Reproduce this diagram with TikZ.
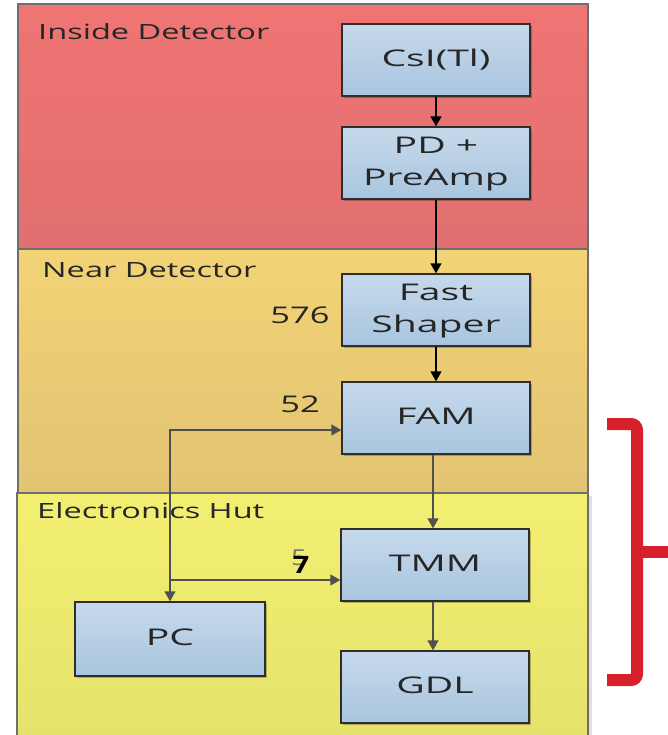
\documentclass[tikz,border=0pt]{standalone}
\usepackage{graphicx}
\usepackage{fontspec}
\setmainfont{Open Sans}
\usetikzlibrary{arrows.meta,calc,shadows}
\definecolor{zoneline}{HTML}{6E6E6E}
\definecolor{redtop}{HTML}{F07474}
\definecolor{redbot}{HTML}{E27070}
\definecolor{oratop}{HTML}{F2D375}
\definecolor{orabot}{HTML}{E2C473}
\definecolor{yeltop}{HTML}{F3EF72}
\definecolor{yelbot}{HTML}{E5E36C}
\definecolor{boxtop}{HTML}{C6D9EB}
\definecolor{boxbot}{HTML}{A9C5DF}
\definecolor{boxline}{HTML}{2E2E2E}
\definecolor{grayline}{HTML}{505050}
\definecolor{bracketred}{HTML}{D8202C}
% wide lettering
\newcommand{\wide}[2][1.5]{\scalebox{#1}[1]{\begin{tabular}{@{}c@{}}#2\end{tabular}}}
\newcommand{\boxtext}[1]{\raisebox{-2pt}{\wide[1.7]{#1}}}
\tikzset{
  zone/.style={draw=zoneline, line width=1.5pt},
  zonelabel/.style={anchor=base west, inner sep=0pt, font=\fontsize{21}{24}\selectfont, text=black!85},
  block/.style={draw=boxline, line width=1.3pt, top color=boxtop, bottom color=boxbot,
    minimum width=188pt, minimum height=72pt, align=center, inner sep=0pt,
    font=\fontsize{23}{32}\selectfont, text=black!85,
    drop shadow={shadow xshift=2pt, shadow yshift=-2pt, opacity=0.25, fill=black}},
  blackflow/.style={draw=black, line width=1.3pt, -{Triangle[width=11pt,length=10pt]}},
  grayflow/.style={draw=grayline, line width=1.3pt, -{Triangle[width=11pt,length=10pt]}},
  countlabel/.style={inner sep=0pt, font=\fontsize{23}{26}\selectfont, text=black!85},
}
\begin{document}
\begin{tikzpicture}[x=1pt, y=-1pt]
\useasboundingbox (0,0) rectangle (668,735);
\fill[white] (0,0) rectangle (668,735);

% zones
\shade[top color=redtop, bottom color=redbot] (18,4) rectangle (588,249);
\draw[zone] (18,4) rectangle (588,249);
\shade[top color=oratop, bottom color=orabot] (18,249) rectangle (588,493);
\draw[zone] (18,249) rectangle (588,493);
\fill[black!12] (588,496) rectangle (592,735);
\shade[top color=yeltop, bottom color=yelbot] (17,493) rectangle (588,737);
\draw[zone] (17,737) -- (17,493) -- (588,493) -- (588,737);

\node[zonelabel] (lin)   at (38,40)  {\wide[1.55]{Inside Detector}};
\node[zonelabel] (lnear) at (42,278) {\wide[1.55]{Near Detector}};
\node[zonelabel] (lhut)  at (37,519) {\wide[1.55]{Electronics Hut}};

% processing blocks
\node[block] (csi)  at (436,60)  {\boxtext{CsI(Tl)}};
\node[block] (pd)   at (436,163) {\boxtext{PD +\\PreAmp}};
\node[block] (fs)   at (436,310) {\boxtext{Fast\\Shaper}};
\node[block] (fam)  at (436,418) {\boxtext{FAM}};
\node[block] (tmm)  at (435,565) {\boxtext{TMM}};
\node[block] (gdl)  at (435,687) {\boxtext{GDL}};
\node[block, minimum width=190pt, minimum height=74pt] (pc) at (170,639) {\boxtext{PC}};

% signal chain
\draw[blackflow] (csi) -- (pd);
\draw[blackflow] (pd) -- (fs);
\draw[blackflow] (fs) -- (fam);
\draw[grayflow] (fam.south -| 433,0) -- (tmm.north -| 433,0);
\draw[grayflow] (tmm.south -| 433,0) -- (gdl.north -| 433,0);

% control lines from the PC
\coordinate (famin) at ($(fam.west)+(0,12)$);
\coordinate (tmmin) at ($(tmm.west)+(0,15)$);
\coordinate (junc) at (pc.north |- tmmin);
\draw[grayflow, {Triangle[width=11pt,length=10pt]}-{Triangle[width=11pt,length=10pt]}] (pc.north) |- (famin);
\draw[grayflow] (junc) -- (tmmin);

% channel counts
\node[countlabel] (n576) at (300,318) {\wide{576}};
\node[countlabel] (n52)  at (300,407) {\wide{52}};
\node[countlabel, text=black!55, font=\fontsize{22}{24}\selectfont] (n5) at (299,558) {\scalebox{1.25}[1]{5}};
\node[countlabel, text=black, font=\bfseries\fontsize{24}{26}\selectfont] (n7) at (301,565) {\scalebox{1.2}[1]{7}};

% grouping bracket
\draw[bracketred, line width=12pt, rounded corners=6pt]
  (607,424) -- (637,424) -- (637,552) -- (637,680) -- (607,680);
\draw[bracketred, line width=12pt] (637,552) -- (670,552);
\end{tikzpicture}
\end{document}
